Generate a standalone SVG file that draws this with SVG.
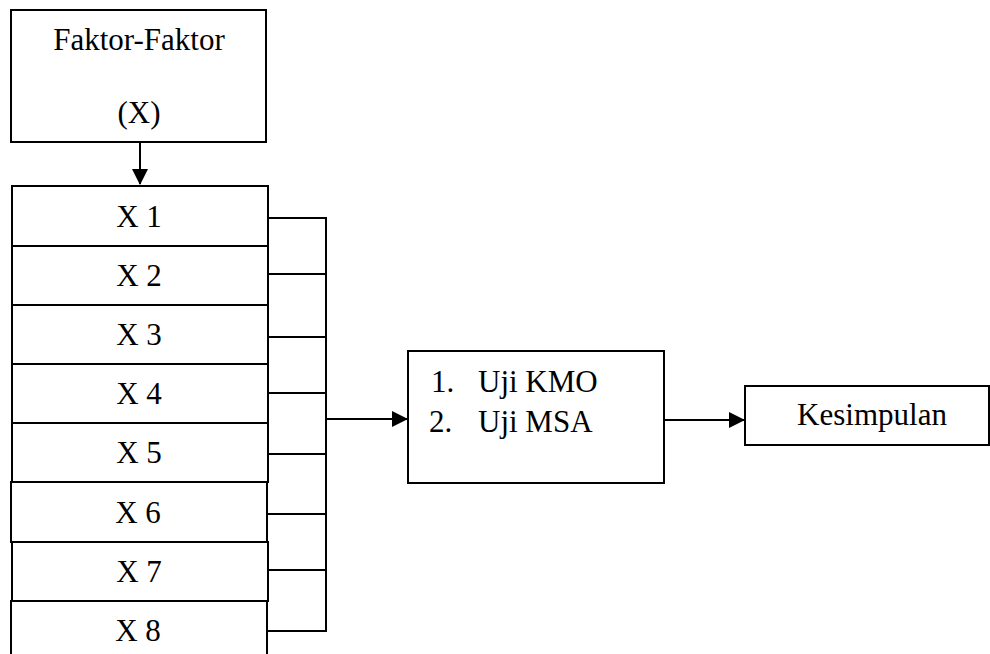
<svg xmlns="http://www.w3.org/2000/svg" width="990" height="654" viewBox="0 0 990 654">
<defs>
<style>
.box{fill:#fff;stroke:#000;stroke-width:2}
.t{font-family:"Liberation Serif","Times New Roman",serif;font-size:31px;fill:#000}
.c{text-anchor:middle}
.ln{fill:none;stroke:#000;stroke-width:2}
</style>
<marker id="ah" markerWidth="16" markerHeight="16" viewBox="0 0 16 16" refX="15" refY="8" orient="auto" markerUnits="userSpaceOnUse">
<path d="M0,0 L16,8 L0,16 Z" fill="#000"/>
</marker>
</defs>
<rect width="990" height="654" fill="#fff"/>
<g id="faktor">
<rect class="box" x="11" y="10" width="255" height="132"/>
<text class="t c" x="139" y="50">Faktor-Faktor</text>
<text class="t c" x="139" y="123">(X)</text>
</g>
<g id="x1"><rect class="box" x="12" y="186" width="256" height="60"/><text class="t c" x="139" y="227">X 1</text></g>
<g id="x2"><rect class="box" x="12" y="246" width="256" height="59"/><text class="t c" x="139" y="286">X 2</text></g>
<g id="x3"><rect class="box" x="12" y="305" width="256" height="59"/><text class="t c" x="139" y="345">X 3</text></g>
<g id="x4"><rect class="box" x="12" y="364" width="256" height="59"/><text class="t c" x="139" y="404">X 4</text></g>
<g id="x5"><rect class="box" x="12" y="423" width="256" height="59"/><text class="t c" x="139" y="463">X 5</text></g>
<g id="x6"><rect class="box" x="11" y="482" width="256" height="60"/><text class="t c" x="138" y="523">X 6</text></g>
<g id="x7"><rect class="box" x="12" y="542" width="256" height="59"/><text class="t c" x="139" y="582">X 7</text></g>
<g id="x8"><rect class="box" x="11" y="601" width="256" height="60"/><text class="t c" x="138" y="641">X 8</text></g>
<g id="uji">
<rect class="box" x="408" y="351" width="256" height="132"/>
<text class="t" x="431" y="392">1.</text><text class="t" x="478" y="392">Uji KMO</text>
<text class="t" x="429" y="432">2.</text><text class="t" x="478" y="432">Uji MSA</text>
</g>
<g id="kesimpulan">
<rect class="box" x="745" y="386" width="244" height="59"/>
<text class="t c" x="872" y="425">Kesimpulan</text>
</g>
<g id="connectors">
<line class="ln" x1="140" y1="142" x2="140" y2="184" marker-end="url(#ah)"/>
<path class="ln" d="M268,218 H326 M268,274 H326 M268,337 H326 M268,393 H326 M268,454 H326 M267,514 H326 M268,570 H326 M267,631 H326 M326,217 V632"/>
<line class="ln" x1="326" y1="419" x2="407" y2="419" marker-end="url(#ah)"/>
<line class="ln" x1="664" y1="420" x2="744" y2="420" marker-end="url(#ah)"/>
</g>
</svg>
